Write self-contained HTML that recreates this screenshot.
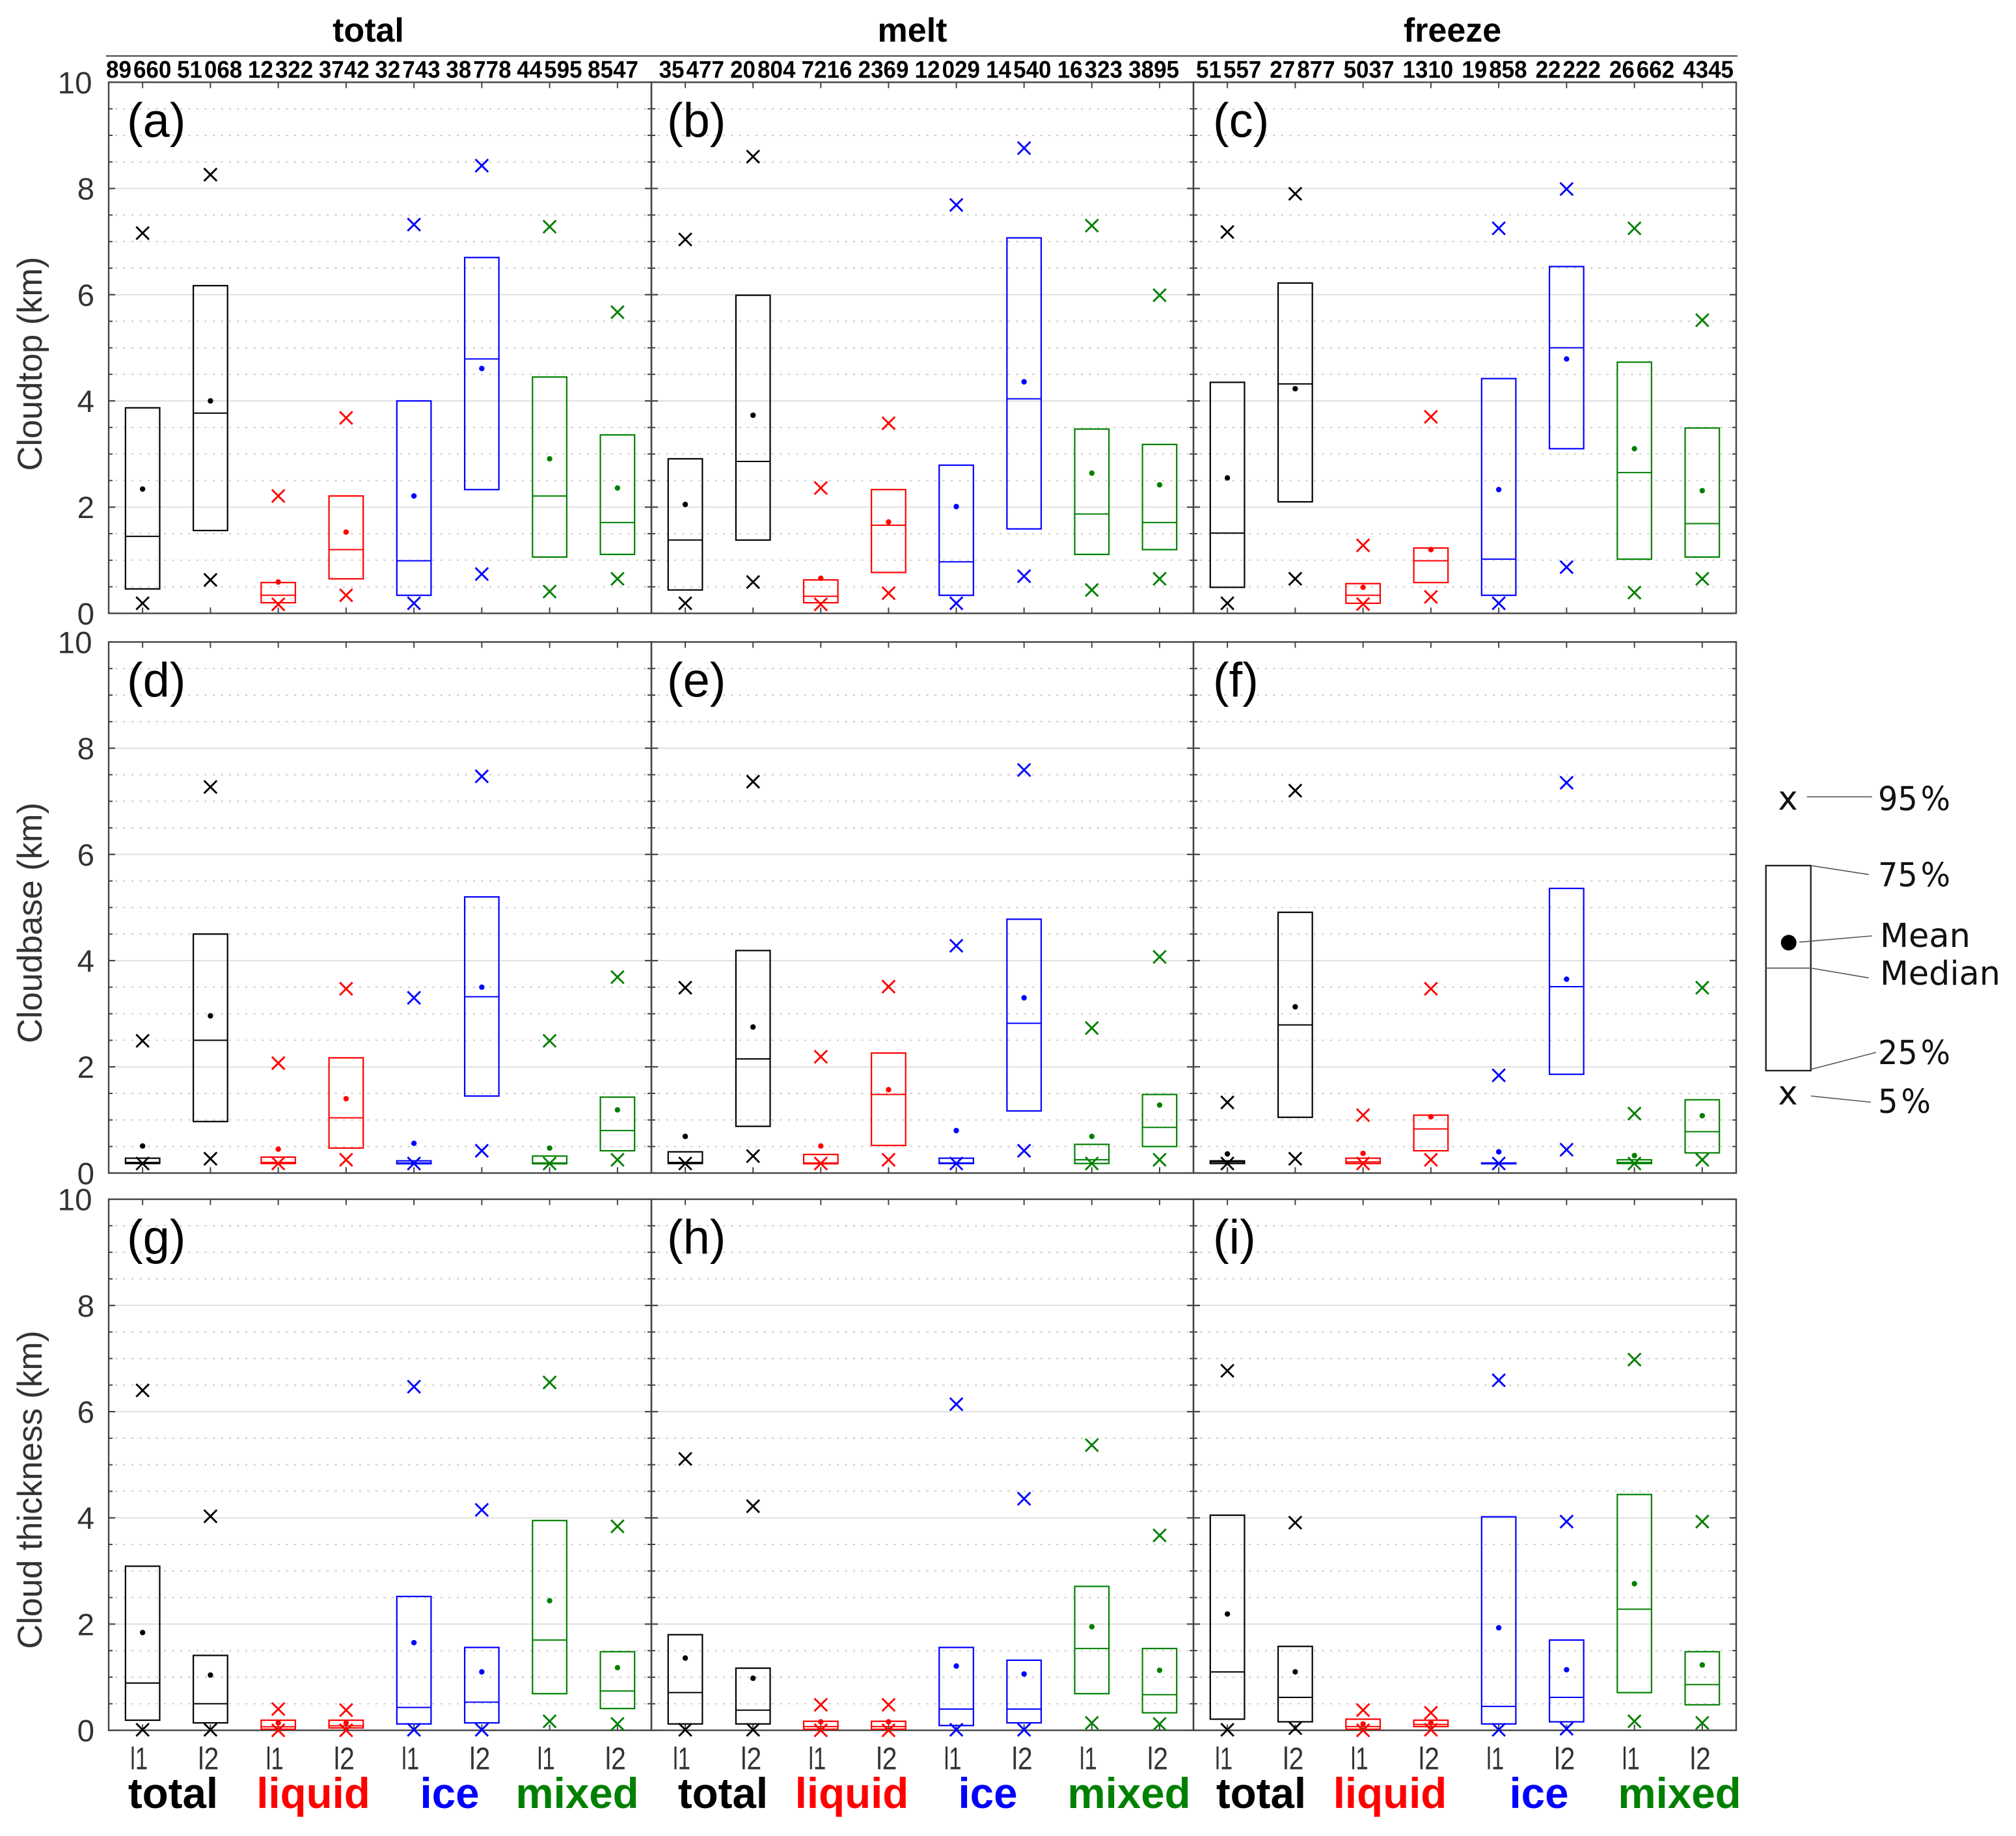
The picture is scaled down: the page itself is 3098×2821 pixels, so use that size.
<!DOCTYPE html>
<html lang="en">
<head>
<meta charset="utf-8">
<title>Cloud top, base and thickness box plots</title>
<style>
html,body{margin:0;padding:0;background:#fff;}
svg{display:block;}
text{font-family:"Liberation Sans",sans-serif;}
.legend-text{font-family:"DejaVu Sans",sans-serif;font-size:51px;fill:#111;}
.group-label{font-size:65.5px;font-weight:bold;text-anchor:middle;}
.column-title{font-size:52px;font-weight:bold;text-anchor:middle;fill:#000;}
.y-title{font-size:52.4px;fill:#333;text-anchor:middle;}
</style>
</head>
<body>
<svg id="chart" xmlns="http://www.w3.org/2000/svg" width="3098" height="2821" viewBox="0 0 3098 2821">
  <rect x="0" y="0" width="3098" height="2821" fill="#fff"/>
  <text class="column-title" x="566" y="64">total</text>
  <text class="column-title" x="1402" y="64">melt</text>
  <text class="column-title" x="2232" y="64">freeze</text>
  <line x1="163" y1="86" x2="2670" y2="86" stroke="#444" stroke-width="2"/>

  <text class="y-title" transform="translate(64,559) rotate(-90)">Cloudtop (km)</text>
  <text class="y-title" transform="translate(64,1418) rotate(-90)">Cloudbase (km)</text>
  <text class="y-title" transform="translate(64,2289) rotate(-90)">Cloud thickness (km)</text>

  <g>
    <text class="group-label" x="266" y="2778" fill="#000">total</text>
    <text class="group-label" x="481.5" y="2778" fill="#f00">liquid</text>
    <text class="group-label" x="691" y="2778" fill="#00f">ice</text>
    <text class="group-label" x="887" y="2778" fill="#008000">mixed</text>
    <text class="group-label" x="1111" y="2778" fill="#000">total</text>
    <text class="group-label" x="1309" y="2778" fill="#f00">liquid</text>
    <text class="group-label" x="1518" y="2778" fill="#00f">ice</text>
    <text class="group-label" x="1735" y="2778" fill="#008000">mixed</text>
    <text class="group-label" x="1938" y="2778" fill="#000">total</text>
    <text class="group-label" x="2136" y="2778" fill="#f00">liquid</text>
    <text class="group-label" x="2365" y="2778" fill="#00f">ice</text>
    <text class="group-label" x="2581" y="2778" fill="#008000">mixed</text>
  </g>

  <g id="panels"></g>

  <g>
    <rect x="2713.7" y="1330" width="69" height="315" fill="none" stroke="#222" stroke-width="2.4"/>
    <line x1="2714" y1="1487.5" x2="2783" y2="1487.5" stroke="#555" stroke-width="1.8"/>
    <circle cx="2748.7" cy="1448.4" r="12" fill="#000"/>
    <text class="legend-text" x="2747.5" y="1244" text-anchor="middle">x</text>
    <text class="legend-text" x="2747.5" y="1697" text-anchor="middle">x</text>
    <line x1="2776.7" y1="1224.3" x2="2876.7" y2="1224.3" stroke="#555" stroke-width="1.6"/>
    <line x1="2783" y1="1330" x2="2871.7" y2="1343.7" stroke="#555" stroke-width="1.6"/>
    <line x1="2765" y1="1447.6" x2="2876.7" y2="1438" stroke="#555" stroke-width="1.6"/>
    <line x1="2783" y1="1487.5" x2="2871.7" y2="1502.6" stroke="#555" stroke-width="1.6"/>
    <line x1="2783" y1="1643" x2="2883" y2="1617" stroke="#555" stroke-width="1.6"/>
    <line x1="2783" y1="1684" x2="2875" y2="1693.5" stroke="#555" stroke-width="1.6"/>
    <text class="legend-text" x="2886" y="1245" textLength="111" lengthAdjust="spacingAndGlyphs">95&#8202;%</text>
    <text class="legend-text" x="2886" y="1362" textLength="111" lengthAdjust="spacingAndGlyphs">75&#8202;%</text>
    <text class="legend-text" x="2889" y="1455" textLength="139" lengthAdjust="spacingAndGlyphs">Mean</text>
    <text class="legend-text" x="2889" y="1513" textLength="185" lengthAdjust="spacingAndGlyphs">Median</text>
    <text class="legend-text" x="2886" y="1635" textLength="111" lengthAdjust="spacingAndGlyphs">25&#8202;%</text>
    <text class="legend-text" x="2886" y="1710" textLength="81" lengthAdjust="spacingAndGlyphs">5&#8202;%</text>
  </g>
</svg>

<script>
// ---- Chart data: each statistic has one row per panel (a..i), 8 values per row ----
const panelLetters = ['a','b','c','d','e','f','g','h','i'];
const categories = ['l1','l2','l1','l2','l1','l2','l1','l2'];
const categoryKinds = ['total','total','liquid','liquid','ice','ice','mixed','mixed'];
const yTicks = [0,2,4,6,8,10];
const yMinorTicks = [0.5,1,1.5,2.5,3,3.5,4.5,5,5.5,6.5,7,7.5,8.5,9,9.5];
const sampleCounts = [
  ['89 660','51 068','12 322','3742','32 743','38 778','44 595','8547'],
  ['35 477','20 804','7216','2369','12 029','14 540','16 323','3895'],
  ['51 557','27 877','5037','1310','19 858','22 222','26 662','4345']
];
const p95 = [
  [7.16,8.26,2.21,3.68,7.32,8.43,7.28,5.67],
  [7.04,8.60,2.36,3.58,7.69,8.76,7.30,5.99],
  [7.18,7.90,1.28,3.70,7.25,7.99,7.25,5.52],
  [2.49,7.27,2.07,3.47,3.30,7.47,2.49,3.69],
  [3.49,7.37,2.19,3.51,4.28,7.59,2.73,4.07],
  [1.33,7.20,1.09,3.47,1.84,7.35,1.12,3.49],
  [6.40,4.03,0.40,0.38,6.47,4.15,6.55,3.84],
  [5.11,4.22,0.48,0.48,6.14,4.36,5.37,3.67],
  [6.77,3.91,0.38,0.33,6.59,3.93,6.98,3.93]
];
const q75 = [
  [3.87,6.17,0.58,2.21,4.00,6.70,4.45,3.36],
  [2.91,5.99,0.63,2.33,2.79,7.07,3.47,3.18],
  [4.35,6.22,0.56,1.23,4.42,6.53,4.73,3.49],
  [0.28,4.50,0.30,2.17,0.23,5.20,0.32,1.43],
  [0.40,4.19,0.35,2.26,0.28,4.78,0.54,1.48],
  [0.23,4.91,0.28,1.09,0.19,5.36,0.25,1.38],
  [3.09,1.41,0.19,0.19,2.52,1.56,3.95,1.48],
  [1.80,1.17,0.17,0.17,1.56,1.32,2.71,1.54],
  [4.05,1.58,0.21,0.19,4.02,1.70,4.44,1.48]
];
const means = [
  [2.34,4.00,0.59,1.53,2.21,4.61,2.91,2.36],
  [2.05,3.73,0.66,1.72,2.01,4.36,2.64,2.42],
  [2.55,4.23,0.49,1.20,2.33,4.79,3.10,2.31],
  [0.51,2.96,0.45,1.40,0.56,3.50,0.47,1.19],
  [0.69,2.75,0.51,1.57,0.80,3.30,0.69,1.28],
  [0.36,3.13,0.37,1.06,0.40,3.65,0.33,1.08],
  [1.84,1.04,0.14,0.14,1.65,1.10,2.44,1.18],
  [1.36,0.98,0.16,0.16,1.21,1.06,1.95,1.13],
  [2.19,1.10,0.12,0.14,1.93,1.14,2.76,1.23]
];
const medians = [
  [1.45,3.77,0.34,1.20,0.99,4.79,2.21,1.71],
  [1.38,2.86,0.32,1.66,0.97,4.04,1.87,1.71],
  [1.51,4.32,0.34,0.99,1.02,5.00,2.65,1.69],
  [0.20,2.50,0.20,1.04,0.19,3.32,0.19,0.80],
  [0.20,2.15,0.19,1.48,0.19,2.82,0.25,0.86],
  [0.21,2.79,0.21,0.83,0.18,3.51,0.20,0.78],
  [0.89,0.50,0.065,0.085,0.43,0.53,1.70,0.74],
  [0.71,0.38,0.07,0.07,0.40,0.40,1.54,0.67],
  [1.10,0.62,0.07,0.11,0.45,0.62,2.28,0.86]
];
const q25 = [
  [0.46,1.56,0.20,0.65,0.34,2.33,1.06,1.11],
  [0.44,1.38,0.20,0.77,0.34,1.59,1.11,1.20],
  [0.49,2.10,0.19,0.58,0.34,3.10,1.02,1.06],
  [0.18,0.97,0.18,0.47,0.175,1.45,0.175,0.42],
  [0.18,0.88,0.175,0.52,0.18,1.17,0.18,0.50],
  [0.18,1.05,0.18,0.42,0.175,1.86,0.18,0.38],
  [0.19,0.14,0.02,0.045,0.12,0.14,0.69,0.41],
  [0.12,0.12,0.02,0.02,0.09,0.14,0.69,0.33],
  [0.21,0.16,0.02,0.07,0.12,0.16,0.71,0.48]
];
const p5 = [
  [0.19,0.63,0.17,0.34,0.19,0.74,0.41,0.65],
  [0.19,0.59,0.17,0.38,0.19,0.70,0.44,0.65],
  [0.19,0.65,0.175,0.31,0.19,0.87,0.39,0.65],
  [0.18,0.27,0.18,0.25,0.18,0.42,0.18,0.25],
  [0.18,0.32,0.18,0.25,0.18,0.42,0.18,0.25],
  [0.18,0.27,0.18,0.25,0.18,0.44,0.18,0.25],
  [0.01,0.01,0.00,0.00,0.01,0.01,0.17,0.12],
  [0.01,0.01,0.00,0.00,0.01,0.01,0.14,0.12],
  [0.01,0.04,0.00,0.01,0.01,0.03,0.17,0.14]
];

// ---- Layout ----
const SVGNS = 'http://www.w3.org/2000/svg';
const kindColor = {total:'#000', liquid:'#f00', ice:'#00f', mixed:'#008000'};
const columnEdges = [[167,1001],[1001,1834],[1834,2668]];
const rowTops = [126.4,986.4,1842.6];
const panelHeight = 816;
const labelNudge = [[28,84],[24,84],[30,84]];
const countSpans = [[163,981],[1012.6,1812],[1838,2664]];
const AXIS = '#444';

function make(tag, attrs, parent) {
  const node = document.createElementNS(SVGNS, tag);
  for (const key in attrs) node.setAttribute(key, attrs[key]);
  if (parent) parent.appendChild(node);
  return node;
}
function xScale(col, index) {
  const [l, r] = columnEdges[col];
  return l + (index + 0.5) * (r - l) / categories.length;
}
function yScale(row, value) {
  return rowTops[row] + panelHeight - value / 10 * panelHeight;
}

const root = document.getElementById('panels');

function drawPanel(panelIndex) {
  const col = panelIndex % 3;
  const row = Math.floor(panelIndex / 3);
  const [left, right] = columnEdges[col];
  const top = rowTops[row];
  const bottom = top + panelHeight;

  const panel = make('g', {}, root);
  
  

  // grid
  yMinorTicks.forEach(function (v) {
    const y = yScale(row, v);
    const dots = make('line', {x1: left + 10, y1: y, x2: right - 8, y2: y, stroke: '#cacaca', 'stroke-width': 2, 'stroke-dasharray': '3 9.5'}, panel);
    
    
    const tl = make('line', {x1: left, y1: y, x2: left + 6, y2: y, stroke: AXIS, 'stroke-width': 2}, panel);
    
    
    const tr = make('line', {x1: right - 6, y1: y, x2: right, y2: y, stroke: AXIS, 'stroke-width': 2}, panel);
    
    
  });
  yTicks.forEach(function (v) {
    const y = yScale(row, v);
    if (v > 0 && v < 10) {
      const grid = make('line', {x1: left + 10, y1: y, x2: right - 10, y2: y, stroke: '#e0e0e0', 'stroke-width': 2}, panel);
      
      
    }
    const tl = make('line', {x1: left, y1: y, x2: left + 10, y2: y, stroke: AXIS, 'stroke-width': 2.2}, panel);
    
    
    const tr = make('line', {x1: right - 10, y1: y, x2: right, y2: y, stroke: AXIS, 'stroke-width': 2.2}, panel);
    
    
    if (col === 0) {
      const label = make('text', {x: v === 10 ? 141.5 : 145, y: y + 17, 'text-anchor': 'end', 'font-size': 47.5, fill: '#333'}, panel);
      
      
      label.textContent = String(v);
    }
  });

  // frame
  const frame = make('rect', {x: left, y: top, width: right - left, height: panelHeight, fill: 'none', stroke: AXIS, 'stroke-width': 2.4}, panel);
  
  

  // panel tag
  const tag = make('text', {x: left + labelNudge[col][0], y: top + labelNudge[col][1], 'font-size': 74, fill: '#000'}, panel);
  
  
  tag.textContent = '(' + panelLetters[panelIndex] + ')';

  // categories
  categories.forEach(function (cat, i) {
    const x = xScale(col, i);
    const color = kindColor[categoryKinds[i]];

    const tickTop = make('line', {x1: x, y1: top, x2: x, y2: top + 9, stroke: AXIS, 'stroke-width': 2}, panel);
    
    
    const tickBottom = make('line', {x1: x, y1: bottom - 9, x2: x, y2: bottom, stroke: AXIS, 'stroke-width': 2}, panel);
    
    

    if (row === 2) {
      const narrow = cat === 'l1' ? 27 : 32;
      const catLabel = make('text', {x: x - 19, y: bottom + 60, 'font-size': 48, fill: '#333', textLength: narrow, lengthAdjust: 'spacingAndGlyphs'}, panel);
      
      
      catLabel.textContent = cat;
    }

    const halfBox = 26.3;
    const yTop = yScale(row, q75[panelIndex][i]);
    const yBot = yScale(row, q25[panelIndex][i]);
    const box = make('rect', {x: x - halfBox, y: yTop, width: halfBox * 2, height: Math.max(yBot - yTop, 0.5), fill: 'none', stroke: color, 'stroke-width': 2.2}, panel);
    
    

    const yMed = yScale(row, medians[panelIndex][i]);
    const med = make('line', {x1: x - halfBox, y1: yMed, x2: x + halfBox, y2: yMed, stroke: color, 'stroke-width': 2}, panel);
    
    

    const dot = make('circle', {cx: x, cy: yScale(row, means[panelIndex][i]), r: 4.2, fill: color}, panel);
    
    

    [p95, p5].forEach(function (series, s) {
      const yMark = yScale(row, series[panelIndex][i]);
      const r = 9.8;
      const mark = make('path', {d: 'M' + (x - r) + ' ' + (yMark - r) + 'L' + (x + r) + ' ' + (yMark + r) + 'M' + (x - r) + ' ' + (yMark + r) + 'L' + (x + r) + ' ' + (yMark - r), fill: 'none', stroke: color, 'stroke-width': 2.9}, panel);
      
      
    });
  });
}

for (let p = 0; p < panelLetters.length; p++) drawPanel(p);

// sample-count labels across the top, packed evenly between measured ends
sampleCounts.forEach(function (labels, col) {
  const nodes = labels.map(function (label) {
    const node = make('text', {x: 0, y: 0, 'font-size': 37, 'font-weight': 'bold', fill: '#000'}, root);
    
    
    const parts = label.split(' ');
    node.appendChild(document.createTextNode(parts[0]));
    if (parts[1]) {
      const tail = make('tspan', {dx: 3.2}, node);
      tail.textContent = parts[1];
    }
    return node;
  });
  const widths = nodes.map(function (n, i) {
    return labels[i].replace(' ', '').length * 19.46 + (labels[i].indexOf(' ') >= 0 ? 3 : 0);
  });
  const total = widths.reduce(function (a, b) { return a + b; }, 0);
  const [start, end] = countSpans[col];
  const gap = (end - start - total) / (labels.length - 1);
  let cursor = start;
  nodes.forEach(function (n, i) {
    n.setAttribute('transform', 'translate(' + cursor + ',119.5) scale(0.946,1)');
    cursor += widths[i] + gap;
  });
});
</script>
</body>
</html>
